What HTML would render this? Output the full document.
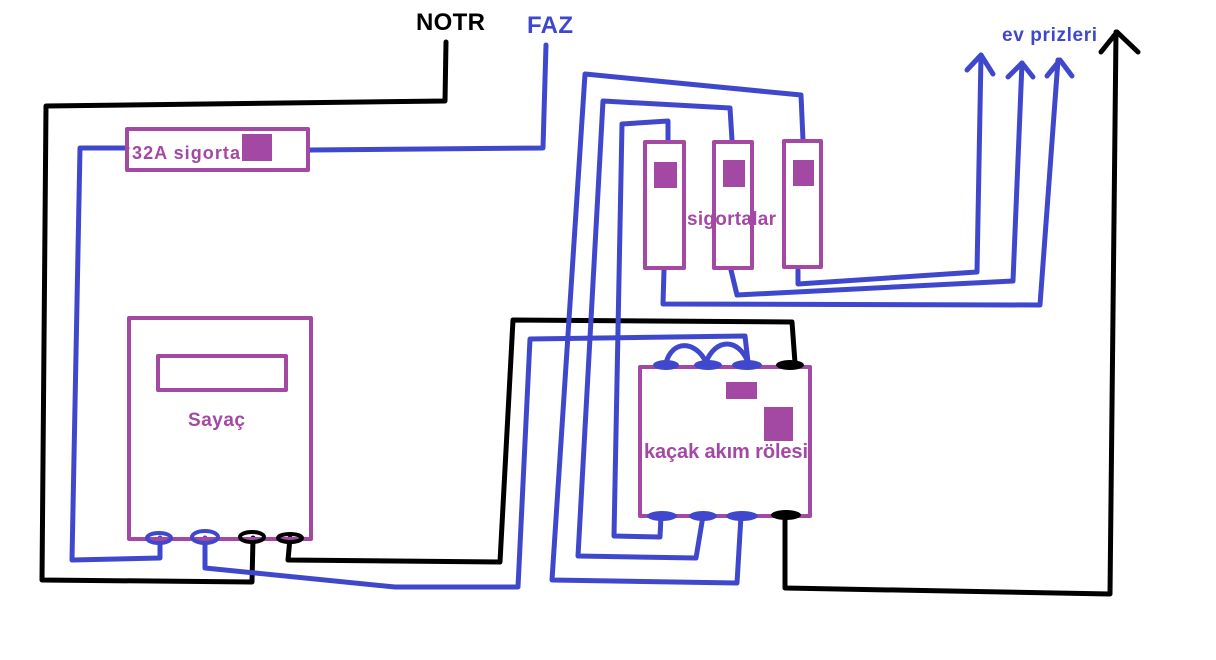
<!DOCTYPE html>
<html><head><meta charset="utf-8"><style>
html,body{margin:0;padding:0;background:#fff;width:1216px;height:660px;overflow:hidden}
svg{display:block}
text{font-family:"Liberation Sans",sans-serif;font-weight:bold}
</style></head><body>
<svg width="1216" height="660" viewBox="0 0 1216 660" xmlns="http://www.w3.org/2000/svg">
<g fill="none" stroke-linejoin="round" stroke-linecap="round">
<g stroke="#000" stroke-width="5">
<polyline points="446,42 445,101 46,106 42,580 252,582 253,538"/>
<polyline points="290,538 288,560 500,562 513,320 792,322 795,363"/>
<polyline points="785,516 785,588 1110,594 1116,32"/>
<polyline points="1101,52 1117,32 1138,52"/>
</g>
<g stroke="#3f48cc" stroke-width="5">
<polyline points="546,45 543,148 310,150"/>
<polyline points="127,148 80,148 72,560 160,558 160,538"/>
<polyline points="205,538 205,568 395,587 518,587 530,339 745,336 748,362"/>
<polyline points="661,516 660,537 614,536 622,124 668,121 668,140"/>
<polyline points="703,516 696,558 578,556 603,101 730,108 732,140"/>
<polyline points="741,516 737,583 552,580 585,74 801,95 803,140"/>
<polyline points="664,270 663,304 1040,305 1058,60"/>
<polyline points="1047,76 1060,60 1072,76"/>
<polyline points="731,270 737,295 1013,281 1022,63"/>
<polyline points="1008,77 1022,63 1033,77"/>
<polyline points="798,270 798,284 977,272 981,55"/>
<polyline points="967,70 981,55 993,74"/>
<path d="M666,363 C672,340 695,340 706,362 C716,338 738,338 748,362"/>
</g>
<g stroke="#a349a4" stroke-width="4">
<rect x="127" y="129" width="181" height="41"/>
<rect x="129" y="318" width="182" height="221"/>
<rect x="158" y="356" width="128" height="34"/>
<rect x="640" y="367" width="170" height="149"/>
<rect x="645" y="142" width="39" height="126"/>
<rect x="714" y="142" width="38" height="126"/>
<rect x="784" y="141" width="37" height="126"/>
</g>
</g>
<g fill="#a349a4">
<rect x="242" y="134" width="30" height="27"/>
<rect x="726" y="382" width="31" height="17"/>
<rect x="764" y="407" width="29" height="34"/>
<rect x="654" y="162" width="23" height="26"/>
<rect x="723" y="160" width="22" height="27"/>
<rect x="793" y="160" width="21" height="26"/>
</g>
<g stroke-width="4" fill="none">
<ellipse cx="159" cy="538" rx="12" ry="5" stroke="#3f48cc"/>
<ellipse cx="205" cy="537" rx="13" ry="6" stroke="#3f48cc"/>
<ellipse cx="252" cy="537" rx="12" ry="5" stroke="#000"/>
<ellipse cx="290" cy="538" rx="12" ry="4" stroke="#000"/>
</g>
<g>
<ellipse cx="666" cy="365" rx="13" ry="5" fill="#3f48cc"/>
<ellipse cx="708" cy="365" rx="14" ry="5" fill="#3f48cc"/>
<ellipse cx="747" cy="365" rx="15" ry="5" fill="#3f48cc"/>
<ellipse cx="790" cy="365" rx="14" ry="5" fill="#000"/>
<ellipse cx="662" cy="516" rx="15" ry="5" fill="#3f48cc"/>
<ellipse cx="703" cy="516" rx="14" ry="5" fill="#3f48cc"/>
<ellipse cx="742" cy="516" rx="16" ry="5" fill="#3f48cc"/>
<ellipse cx="786" cy="515" rx="15" ry="5" fill="#000"/>
</g>
<text x="416" y="30" font-size="24" fill="#000" textLength="69">NOTR</text>
<text x="527" y="33" font-size="24" fill="#3f48cc" textLength="46">FAZ</text>
<text x="1002" y="41" font-size="19" fill="#3f48cc" textLength="95">ev prizleri</text>
<text x="132" y="159" font-size="18" fill="#a349a4" textLength="108">32A sigorta</text>
<text x="188" y="426" font-size="19" fill="#a349a4" textLength="57">Sayaç</text>
<text x="687" y="225" font-size="19" fill="#a349a4" textLength="89">sigortalar</text>
<text x="644" y="458" font-size="20" fill="#a349a4" textLength="164">kaçak akım rölesi</text>
</svg>
</body></html>
